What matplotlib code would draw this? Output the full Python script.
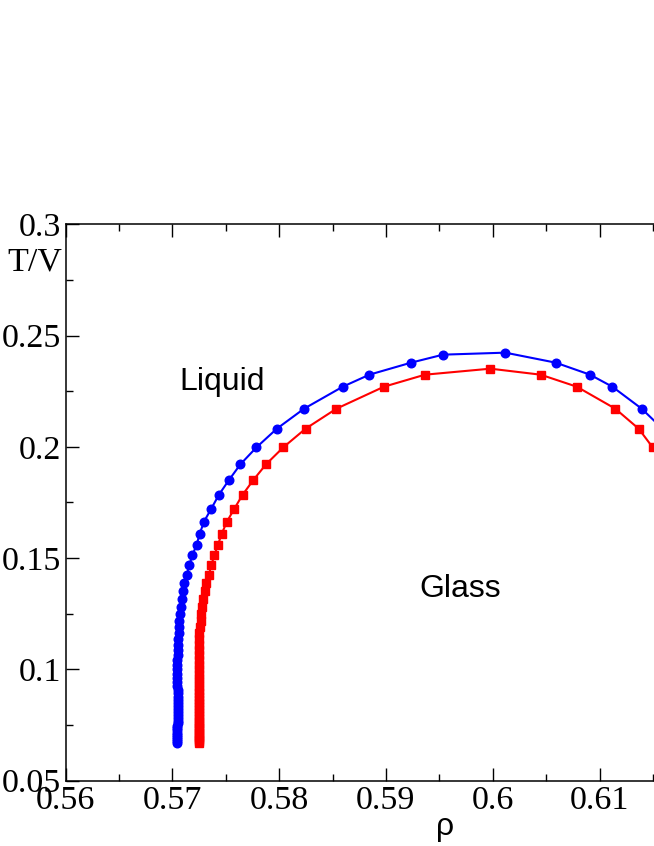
import matplotlib
matplotlib.use("Agg")
import matplotlib.pyplot as plt
from matplotlib.ticker import MultipleLocator, FormatStrFormatter

# =========================
# data
# =========================
# blue circles: from the bottom of the left branch, over the top, down the right
blue_rho = [
    0.57041, 0.57042, 0.57043, 0.57043, 0.57044, 0.57045, 0.57046, 0.57047,
    0.57048, 0.57049, 0.57050, 0.57051, 0.57052, 0.57054, 0.57055, 0.57056,
    0.57055, 0.57054, 0.57052, 0.57050, 0.57049, 0.57048, 0.57047, 0.57047,
    0.57046, 0.57046, 0.57046, 0.57047, 0.57049, 0.57050, 0.57053, 0.57056,
    0.57059, 0.57063, 0.57066, 0.57075, 0.57084, 0.57094, 0.57100, 0.57112,
    0.57135, 0.57159, 0.57187, 0.57228, 0.57257, 0.57297, 0.57365, 0.57437,
    0.57528, 0.57637, 0.57787, 0.57978, 0.58233, 0.58596, 0.58845, 0.59235,
    0.59535, 0.60118, 0.60590, 0.60911, 0.61120, 0.61395, 0.61590,
]
blue_T = [
    0.0667, 0.0676, 0.0685, 0.0694, 0.0704, 0.0714, 0.0725, 0.0735,
    0.0746, 0.0758, 0.0769, 0.0781, 0.0794, 0.0806, 0.0820, 0.0833,
    0.0848, 0.0862, 0.0877, 0.0893, 0.0909, 0.0926, 0.0943, 0.0962,
    0.0980, 0.1000, 0.1020, 0.1042, 0.1064, 0.1087, 0.1111, 0.1136,
    0.1163, 0.1190, 0.1219, 0.1250, 0.1282, 0.1315, 0.1350, 0.1387,
    0.1425, 0.1468, 0.1512, 0.1560, 0.1610, 0.1664, 0.1722, 0.1785,
    0.1849, 0.1921, 0.1997, 0.2081, 0.2171, 0.2270, 0.2324, 0.2378,
    0.2414, 0.2423, 0.2378, 0.2324, 0.2270, 0.2171, 0.2081,
]

# red squares
red_rho = [
    0.57247, 0.57247, 0.57247, 0.57247, 0.57247, 0.57247, 0.57247, 0.57247,
    0.57247, 0.57247, 0.57248, 0.57248, 0.57248, 0.57248, 0.57248, 0.57248,
    0.57248, 0.57249, 0.57249, 0.57249, 0.57249, 0.57249, 0.57250, 0.57250,
    0.57250, 0.57250, 0.57251, 0.57251, 0.57251, 0.57252, 0.57252, 0.57253,
    0.57254, 0.57259, 0.57265, 0.57272, 0.57280, 0.57291, 0.57304, 0.57318,
    0.57343, 0.57365, 0.57393, 0.57428, 0.57463, 0.57512, 0.57581, 0.57659,
    0.57756, 0.57877, 0.58038, 0.58247, 0.58536, 0.58982, 0.59366, 0.59978,
    0.60449, 0.60787, 0.61148, 0.61367, 0.61498, 0.61600,
]
red_T = [
    0.0667, 0.0676, 0.0685, 0.0694, 0.0704, 0.0714, 0.0725, 0.0735,
    0.0746, 0.0758, 0.0769, 0.0781, 0.0794, 0.0806, 0.0820, 0.0833,
    0.0848, 0.0862, 0.0877, 0.0893, 0.0909, 0.0926, 0.0943, 0.0962,
    0.0980, 0.1000, 0.1020, 0.1042, 0.1064, 0.1087, 0.1111, 0.1136,
    0.1163, 0.1190, 0.1219, 0.1250, 0.1282, 0.1315, 0.1350, 0.1387,
    0.1425, 0.1468, 0.1512, 0.1560, 0.1610, 0.1664, 0.1722, 0.1785,
    0.1849, 0.1921, 0.1997, 0.2081, 0.2171, 0.2270, 0.2324, 0.2351,
    0.2324, 0.2270, 0.2171, 0.2081, 0.1997, 0.1921,
]

# tick marks that are visible inside the picture
x_ticks = [0.56, 0.57, 0.58, 0.59, 0.60, 0.61]
y_ticks = [0.05, 0.10, 0.15, 0.20, 0.25, 0.30]

serif = "Liberation Serif"
sans = "Liberation Sans"

# =========================
# figure
# =========================
fig = plt.figure(figsize=(6.54, 8.46), dpi=100)
# the right side of the frame runs off the picture, as in the original
ax = fig.add_axes([0.1002, 0.0774, 0.9798, 0.6575])

ax.plot(blue_rho, blue_T, color="#0000ff", lw=1.5, marker="o", ms=6.2,
        mec="#0000ff", mfc="#0000ff", zorder=3)
ax.plot(red_rho, red_T, color="#ff0000", lw=1.5, marker="s", ms=5.2,
        mec="#ff0000", mfc="#ff0000", zorder=3)

ax.set_xlim(0.56, 0.62)
ax.set_ylim(0.05, 0.3)

ax.set_xticks(x_ticks)
ax.set_yticks(y_ticks)
ax.xaxis.set_minor_locator(MultipleLocator(0.005))
ax.yaxis.set_minor_locator(MultipleLocator(0.025))
ax.xaxis.set_major_formatter(FormatStrFormatter("%g"))
ax.yaxis.set_major_formatter(FormatStrFormatter("%g"))

ax.tick_params(which="both", direction="in", top=True, right=True,
               width=1.0, color="black")
ax.tick_params(which="major", length=9.5)
ax.tick_params(which="minor", length=5)
ax.tick_params(axis="y", pad=3.5)
ax.tick_params(axis="x", pad=3.5)
for lab in ax.get_xticklabels() + ax.get_yticklabels():
    lab.set_fontfamily(serif)
    lab.set_fontsize(24.5)
for sp in ax.spines.values():
    sp.set_linewidth(1.1)

# labels
fig.text(62 / 654, 1 - 262 / 846, "T/V", ha="right", va="center",
         fontfamily=serif, fontsize=24.5)
fig.text(445 / 654, 11 / 846, "ρ", ha="center", va="baseline",
         fontfamily=sans, fontsize=23)

ax.text(0.57063, 0.2254, "Liquid", ha="left", va="baseline",
        fontfamily=sans, fontsize=23)
ax.text(0.59313, 0.1324, "Glass", ha="left", va="baseline",
        fontfamily=sans, fontsize=23)

fig.savefig("out.png", dpi=100)
